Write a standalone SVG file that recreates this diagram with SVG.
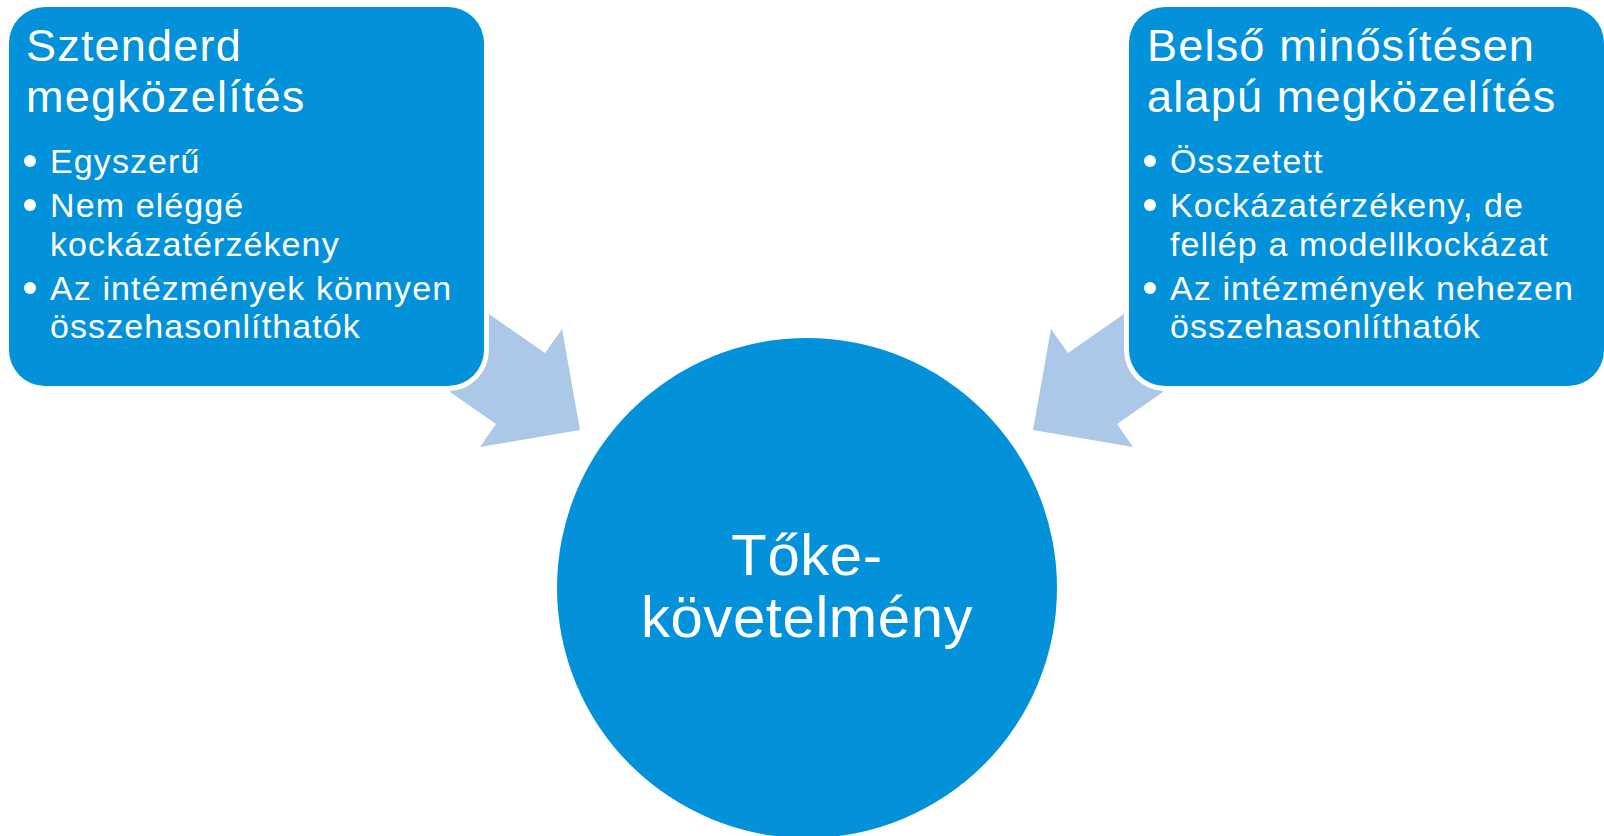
<svg xmlns="http://www.w3.org/2000/svg" width="1604" height="836" viewBox="0 0 1604 836">
  <style>
    .box { fill: #0392DA; }
    .halo { fill: #FFFFFF; }
    .arrow { fill: #ABC8E9; }
    .title { font-family: "Liberation Sans", Arial, sans-serif; font-size: 45px; fill: #FFFFFF; letter-spacing: 1.2px; }
    .item { font-family: "Liberation Sans", Arial, sans-serif; font-size: 34px; fill: #FFFFFF; letter-spacing: 1.1px; }
    .center { font-family: "Liberation Sans", Arial, sans-serif; font-size: 58px; fill: #FFFFFF; letter-spacing: 0.6px; text-anchor: middle; }
    .dot { fill: #FFFFFF; }
  </style>
  <rect width="1604" height="836" fill="#FFFFFF"/>

  <!-- block arrows pointing from the two approaches into the centre -->
  <g id="connectors">
    <polygon class="arrow" points="489,314 545,353 562,329 580,430 480,447 496,424 450,392"/>
    <polygon class="arrow" points="1124,314 1068,353 1051,329 1033,430 1133,447 1117,424 1163,392"/>
  </g>

  <!-- left: standardised approach -->
  <g id="node-standard">
    <rect class="halo" x="4" y="2" width="485" height="389" rx="41"/>
    <rect class="box" x="9" y="7" width="475" height="379" rx="36"/>
    <text class="title" x="26" y="61">Sztenderd</text>
    <text class="title" x="26" y="112">megközelítés</text>
    <circle class="dot" cx="30" cy="161" r="6"/>
    <text class="item" x="50" y="173">Egyszerű</text>
    <circle class="dot" cx="30" cy="205" r="6"/>
    <text class="item" x="50" y="217">Nem eléggé</text>
    <text class="item" x="50" y="256">kockázatérzékeny</text>
    <circle class="dot" cx="30" cy="288" r="6"/>
    <text class="item" x="50" y="300">Az intézmények könnyen</text>
    <text class="item" x="50" y="338">összehasonlíthatók</text>
  </g>

  <!-- right: internal ratings based approach -->
  <g id="node-irb">
    <rect class="halo" x="1124" y="2" width="485" height="389" rx="41"/>
    <rect class="box" x="1129" y="7" width="475" height="379" rx="36"/>
    <text class="title" x="1147" y="61">Belső minősítésen</text>
    <text class="title" x="1147" y="112">alapú megközelítés</text>
    <circle class="dot" cx="1150" cy="161" r="6"/>
    <text class="item" x="1170" y="173">Összetett</text>
    <circle class="dot" cx="1150" cy="205" r="6"/>
    <text class="item" x="1170" y="217">Kockázatérzékeny, de</text>
    <text class="item" x="1170" y="256">fellép a modellkockázat</text>
    <circle class="dot" cx="1150" cy="288" r="6"/>
    <text class="item" x="1170" y="300">Az intézmények nehezen</text>
    <text class="item" x="1170" y="338">összehasonlíthatók</text>
  </g>

  <!-- centre: capital requirement -->
  <g id="node-capital">
    <circle class="box" cx="807" cy="588" r="250"/>
    <text class="center" x="807" y="575">Tőke-</text>
    <text class="center" x="807" y="637">követelmény</text>
  </g>
</svg>
